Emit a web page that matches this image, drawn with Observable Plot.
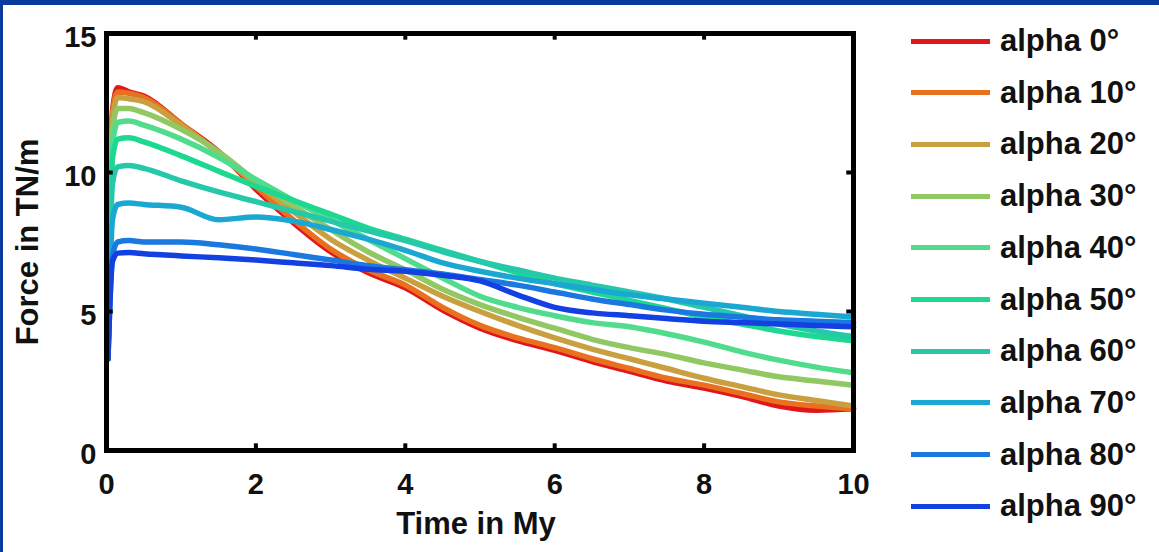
<!DOCTYPE html>
<html>
<head>
<meta charset="utf-8">
<script src="https://cdn.jsdelivr.net/npm/d3@7"></script>
<script src="https://cdn.jsdelivr.net/npm/@observablehq/plot@0.6"></script>
<style>
  html, body { margin: 0; padding: 0; background: #ffffff; }
  #wrap { position: relative; width: 1159px; height: 552px; overflow: hidden; background: #ffffff;
          font-family: "Liberation Sans", Arial, Helvetica, sans-serif; }
  #bt { position: absolute; left: 0; top: 0; width: 1159px; height: 5px; background: #0b3a9e; }
  #bl { position: absolute; left: 0; top: 0; width: 3px; height: 552px; background: #0b3a9e; }
  #chart { position: absolute; left: 0; top: 0; }
  .lrow { position: absolute; left: 911px; height: 36px; display: flex; align-items: center; }
  .lline { width: 79px; height: 5px; margin-right: 10px; }
  .ltext { font-size: 31px; font-weight: bold; color: #111; white-space: nowrap; line-height: 36px; }
</style>
</head>
<body>
<div id="wrap">
  <div id="chart"></div>
  <div id="legend"></div>
  <div id="bt"></div>
  <div id="bl"></div>
</div>
<script>
// ---- data ----
const times   = [0.02, 0.08, 0.15, 0.3, 0.5, 1, 1.5, 2, 2.5, 3, 3.5, 4, 4.5, 5, 5.5, 6, 6.5, 7, 7.5, 8, 8.5, 9, 9.5, 10];
const alpha0  = [3.3, 12.2, 13.05, 12.9, 12.75, 11.75, 10.75, 9.4, 8.2, 7.15, 6.4, 5.85, 5.05, 4.4, 3.95, 3.6, 3.2, 2.85, 2.5, 2.25, 1.95, 1.6, 1.45, 1.5];
const alpha10 = [3.3, 12.1, 12.9, 12.85, 12.7, 11.75, 10.7, 9.5, 8.3, 7.25, 6.5, 5.95, 5.15, 4.5, 4.05, 3.7, 3.3, 2.95, 2.6, 2.35, 2.05, 1.75, 1.6, 1.5];
const alpha20 = [3.3, 11.9, 12.7, 12.65, 12.55, 11.7, 10.7, 9.6, 8.6, 7.6, 6.85, 6.2, 5.55, 5.0, 4.5, 4.05, 3.65, 3.3, 2.95, 2.6, 2.3, 2.0, 1.8, 1.6];
const alpha30 = [3.3, 11.5, 12.3, 12.3, 12.15, 11.55, 10.75, 9.7, 8.8, 7.95, 7.15, 6.5, 5.8, 5.25, 4.8, 4.4, 4.0, 3.7, 3.45, 3.15, 2.9, 2.65, 2.5, 2.35];
const alpha40 = [3.3, 11.0, 11.8, 11.85, 11.7, 11.2, 10.55, 9.75, 9.0, 8.3, 7.6, 6.9, 6.2, 5.55, 5.15, 4.85, 4.6, 4.45, 4.2, 3.9, 3.55, 3.25, 3.0, 2.8];
const alpha50 = [3.3, 10.5, 11.2, 11.25, 11.1, 10.6, 10.05, 9.5, 9.0, 8.5, 8.0, 7.6, 7.2, 6.8, 6.4, 6.0, 5.7, 5.4, 5.1, 4.8, 4.55, 4.3, 4.1, 3.95];
const alpha60 = [3.3, 9.6, 10.2, 10.25, 10.15, 9.7, 9.3, 8.95, 8.6, 8.25, 7.9, 7.55, 7.15, 6.8, 6.5, 6.2, 5.95, 5.7, 5.45, 5.15, 4.85, 4.55, 4.3, 4.1];
const alpha70 = [3.3, 8.3, 8.85, 8.9, 8.85, 8.75, 8.3, 8.4, 8.25, 7.95, 7.6, 7.2, 6.75, 6.45, 6.2, 6.0, 5.8, 5.6, 5.45, 5.3, 5.15, 5.0, 4.9, 4.8];
const alpha80 = [3.3, 7.0, 7.5, 7.55, 7.5, 7.5, 7.4, 7.25, 7.05, 6.85, 6.65, 6.5, 6.35, 6.15, 5.95, 5.7, 5.45, 5.25, 5.05, 4.9, 4.8, 4.7, 4.65, 4.6];
const alpha90 = [3.3, 6.8, 7.1, 7.12, 7.08, 7.0, 6.93, 6.85, 6.75, 6.65, 6.52, 6.45, 6.3, 6.1, 5.6, 5.15, 4.95, 4.85, 4.75, 4.65, 4.6, 4.55, 4.5, 4.45];

const seriesNames  = ["alpha 0°", "alpha 10°", "alpha 20°", "alpha 30°", "alpha 40°", "alpha 50°", "alpha 60°", "alpha 70°", "alpha 80°", "alpha 90°"];
const seriesValues = [alpha0, alpha10, alpha20, alpha30, alpha40, alpha50, alpha60, alpha70, alpha80, alpha90];
const seriesColors = ["#e0161a", "#e8701e", "#c9a040", "#92c864", "#50dc8c", "#1cd890", "#26c8aa", "#1aa8d2", "#1a78e0", "#1240e2"];

const xTickValues = [0, 2, 4, 6, 8, 10];
const yTickValues = [0, 5, 10, 15];
const xInnerTicks = [2, 4, 6, 8];
const yInnerTicks = [5, 10];
const xTitle = "Time in My";
const yTitle = "Force in TN/m";

// ---- build table ----
const rows = [];
seriesNames.forEach((name, i) => {
  times.forEach((t, j) => rows.push({series: name, time: t, force: seriesValues[i][j]}));
});

const FONT = "Liberation Sans, Arial, Helvetica, sans-serif";
const FS_TICK = 29;
const FS_TITLE = 31;

const chart = Plot.plot({
  width: 1159,
  height: 552,
  marginLeft: 106,
  marginRight: 306,
  marginTop: 33,
  marginBottom: 102,
  style: {background: "transparent", fontFamily: FONT},
  x: {domain: [0, 10], axis: null},
  y: {domain: [0, 15], axis: null},
  color: {domain: seriesNames, range: seriesColors},
  marks: [
    Plot.line(rows, {x: "time", y: "force", z: "series", stroke: "series",
                     strokeWidth: 5.5, curve: "monotone-x", strokeLinejoin: "round", strokeLinecap: "round"}),
    // inward ticks
    Plot.ruleX(xInnerTicks, {x: d => d, y1: 0, y2: 0.24, stroke: "black", strokeWidth: 4}),
    Plot.ruleX(xInnerTicks, {x: d => d, y1: 14.76, y2: 15, stroke: "black", strokeWidth: 4}),
    Plot.ruleY(yInnerTicks, {y: d => d, x1: 0, x2: 0.09, stroke: "black", strokeWidth: 4}),
    Plot.ruleY(yInnerTicks, {y: d => d, x1: 9.91, x2: 10, stroke: "black", strokeWidth: 4}),
    Plot.frame({stroke: "black", strokeWidth: 5}),
    // tick labels
    Plot.text(xTickValues, {x: d => d, frameAnchor: "bottom", dy: 34, lineAnchor: "middle", text: d => String(d),
                            fontSize: FS_TICK, fontWeight: "bold", fill: "#111"}),
    Plot.text(yTickValues, {y: d => d, frameAnchor: "left", dx: -10, dy: 4, textAnchor: "end", lineAnchor: "middle",
                            text: d => String(d), fontSize: FS_TICK, fontWeight: "bold", fill: "#111"}),
    // axis titles
    Plot.text([xTitle], {frameAnchor: "bottom", dy: 74, dx: -4, lineAnchor: "middle", textAnchor: "middle",
                         text: d => d, fontSize: FS_TITLE, fontWeight: "bold", fill: "#111"}),
    Plot.text([yTitle], {frameAnchor: "left", dx: -78, rotate: -90, textAnchor: "middle", lineAnchor: "middle",
                         text: d => d, fontSize: FS_TITLE, fontWeight: "bold", fill: "#111"})
  ]
});
document.getElementById("chart").appendChild(chart);

// ---- legend ----
const legend = document.getElementById("legend");
seriesNames.forEach((name, i) => {
  const row = document.createElement("div");
  row.className = "lrow";
  row.style.top = (41 + i * 51.7 - 18) + "px";
  const ln = document.createElement("div");
  ln.className = "lline";
  ln.style.background = seriesColors[i];
  const tx = document.createElement("div");
  tx.className = "ltext";
  tx.textContent = name;
  row.appendChild(ln);
  row.appendChild(tx);
  legend.appendChild(row);
});
</script>
</body>
</html>
